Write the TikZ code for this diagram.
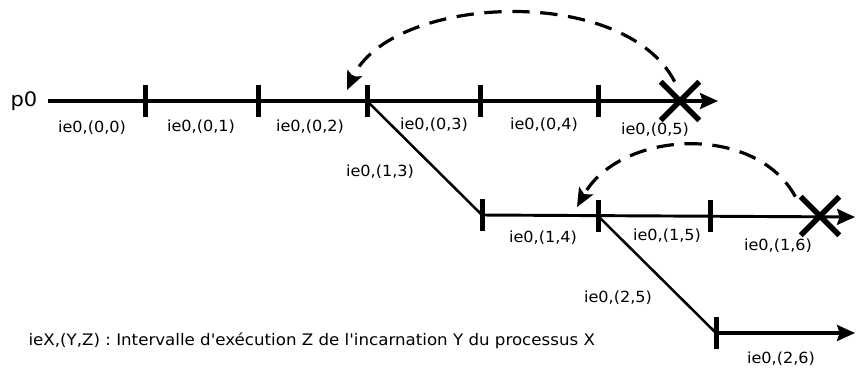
\documentclass[tikz,border=0pt]{standalone}
\usepackage{fontspec}
\setmainfont{DejaVu Sans}[FakeStretch=1.05, Ligatures=TeXOff]
\usetikzlibrary{arrows.meta,shapes.misc}

\begin{document}
\begin{tikzpicture}[
  x=0.75pt, y=-0.75pt,
  font=\fontsize{11.5}{13}\selectfont,
  proc/.style={line width=2.4pt, -{Stealth[length=13.5pt, width=12pt, inset=2pt]}},
  branch/.style={line width=1.9pt},
  tickmark/.style={fill=black, inner sep=0pt, minimum width=3.75pt, minimum height=24pt},
  killed/.style={draw, cross out, line width=4pt, inner sep=0pt, minimum size=25pt},
  back/.style={line width=2.4pt, dash pattern=on 13pt off 8pt, -{Stealth[length=14pt, width=12pt, inset=3pt]}},
  lbl/.style={inner sep=1pt}
]
\useasboundingbox (0,0) rectangle (856,372);

% process p0
\node[font=\fontsize{15}{17}\selectfont] (p0) at (24,101) {p0};
\coordinate (s0) at (48,101);
\coordinate (e0) at (718,101);
\coordinate (e1) at (855,217);
\coordinate (e2) at (855,333);

\draw[proc] (s0) -- (e0);

\node[tickmark] (t01) at (145,101) {};
\node[tickmark] (t02) at (258,101) {};
\node[tickmark] (t03) at (367,101) {};
\node[tickmark] (t04) at (480,101) {};
\node[tickmark] (t05) at (598,101) {};
\node[killed] (x0) at (680,101) {};

% incarnation 1
\node[tickmark] (t13) at (482,215) {};
\node[tickmark] (t14) at (598,216) {};
\node[tickmark] (t15) at (710,216) {};
\node[killed] (x1) at (820,216) {};

\draw[branch] (t03.center) -- (t13.center);
\draw[proc, line width=2.2pt] (t13.center) -- (e1);

% incarnation 2
\node[tickmark] (t25) at (716,333) {};
\draw[branch] (t14.center) -- (t25.center);
\draw[proc] (t25.center) -- (e2);

% retours arriere
\coordinate (c0) at (347,90);
\coordinate (c1) at (577,207);
\draw[back] ([xshift=-4pt]x0.north) .. controls +(-51,-99) and +(43,-95) .. (c0);
\draw[back] ([xshift=-4pt]x1.north west) .. controls +(-40,-74) and +(43,-77) .. (c1);

% intervalles
\node[lbl] (l00) at (92,128) {ie0,(0,0)};
\node[lbl] (l01) at (201,127) {ie0,(0,1)};
\node[lbl] (l02) at (310,127) {ie0,(0,2)};
\node[lbl] (l03) at (434,125) {ie0,(0,3)};
\node[lbl] (l04) at (544,125) {ie0,(0,4)};
\node[lbl] (l05) at (655,130) {ie0,(0,5)};
\node[lbl] (l13) at (380,172) {ie0,(1,3)};
\node[lbl] (l14) at (543,238) {ie0,(1,4)};
\node[lbl] (l15) at (667,236) {ie0,(1,5)};
\node[lbl] (l16) at (778,246) {ie0,(1,6)};
\node[lbl] (l25) at (618,298) {ie0,(2,5)};
\node[lbl] (l26) at (781,359) {ie0,(2,6)};

\node[lbl, anchor=west, font=\fontsize{11.9}{13}\selectfont] (legend) at (27,341)
  {ieX,(Y,Z) : Intervalle d'exécution Z de l'incarnation Y du processus X};

\end{tikzpicture}
\end{document}
